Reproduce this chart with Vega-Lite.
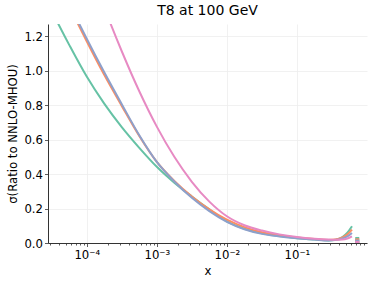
{
  "$schema": "https://vega.github.io/schema/vega-lite/v6.json",
  "autosize": "none",
  "width": 319,
  "height": 219,
  "padding": {"left": 48, "top": 24, "right": 7, "bottom": 43},
  "title": {"text": "T8 at 100 GeV", "fontSize": 14, "fontWeight": "normal", "font": "DejaVu Sans", "color": "#000", "offset": 6, "anchor": "middle"},
  "config": {"view": {"stroke": null}, "font": "DejaVu Sans"},
  "datasets": {
    "lines": [
      {"s": "A", "x": 2.818e-5, "v": 1.386}, {"s": "A", "x": 5.623e-5, "v": 1.149}, {"s": "A", "x": 1e-4, "v": 0.965}, {"s": "A", "x": 1.778e-4, "v": 0.808}, {"s": "A", "x": 3.162e-4, "v": 0.672}, {"s": "A", "x": 5.623e-4, "v": 0.552}, {"s": "A", "x": 1e-3, "v": 0.442}, {"s": "A", "x": 1.778e-3, "v": 0.35}, {"s": "A", "x": 3.162e-3, "v": 0.27}, {"s": "A", "x": 5.623e-3, "v": 0.195}, {"s": "A", "x": 0.01, "v": 0.125}, {"s": "A", "x": 0.01778, "v": 0.083}, {"s": "A", "x": 0.03162, "v": 0.056}, {"s": "A", "x": 0.05623, "v": 0.04}, {"s": "A", "x": 0.1, "v": 0.028}, {"s": "A", "x": 0.1778, "v": 0.02}, {"s": "A", "x": 0.2818, "v": 0.015}, {"s": "A", "x": 0.3548, "v": 0.019}, {"s": "A", "x": 0.4467, "v": 0.035}, {"s": "A", "x": 0.5248, "v": 0.06}, {"s": "A", "x": 0.6109, "v": 0.097},
      {"s": "B", "x": 2.818e-5, "v": 1.64}, {"s": "B", "x": 5.623e-5, "v": 1.375}, {"s": "B", "x": 1e-4, "v": 1.17}, {"s": "B", "x": 1.778e-4, "v": 0.975}, {"s": "B", "x": 3.162e-4, "v": 0.795}, {"s": "B", "x": 5.623e-4, "v": 0.62}, {"s": "B", "x": 1e-3, "v": 0.47}, {"s": "B", "x": 1.778e-3, "v": 0.36}, {"s": "B", "x": 3.162e-3, "v": 0.27}, {"s": "B", "x": 5.623e-3, "v": 0.195}, {"s": "B", "x": 0.01, "v": 0.135}, {"s": "B", "x": 0.01778, "v": 0.092}, {"s": "B", "x": 0.03162, "v": 0.062}, {"s": "B", "x": 0.05623, "v": 0.045}, {"s": "B", "x": 0.1, "v": 0.032}, {"s": "B", "x": 0.1778, "v": 0.023}, {"s": "B", "x": 0.2818, "v": 0.018}, {"s": "B", "x": 0.3548, "v": 0.02}, {"s": "B", "x": 0.4467, "v": 0.032}, {"s": "B", "x": 0.5248, "v": 0.05}, {"s": "B", "x": 0.6109, "v": 0.078},
      {"s": "C", "x": 2.818e-5, "v": 1.66}, {"s": "C", "x": 5.623e-5, "v": 1.39}, {"s": "C", "x": 1e-4, "v": 1.185}, {"s": "C", "x": 1.778e-4, "v": 0.99}, {"s": "C", "x": 3.162e-4, "v": 0.805}, {"s": "C", "x": 5.623e-4, "v": 0.625}, {"s": "C", "x": 1e-3, "v": 0.47}, {"s": "C", "x": 1.778e-3, "v": 0.357}, {"s": "C", "x": 3.162e-3, "v": 0.262}, {"s": "C", "x": 5.623e-3, "v": 0.185}, {"s": "C", "x": 0.01, "v": 0.123}, {"s": "C", "x": 0.01778, "v": 0.08}, {"s": "C", "x": 0.03162, "v": 0.053}, {"s": "C", "x": 0.05623, "v": 0.038}, {"s": "C", "x": 0.1, "v": 0.027}, {"s": "C", "x": 0.1778, "v": 0.02}, {"s": "C", "x": 0.2818, "v": 0.015}, {"s": "C", "x": 0.3548, "v": 0.017}, {"s": "C", "x": 0.4467, "v": 0.026}, {"s": "C", "x": 0.5248, "v": 0.038}, {"s": "C", "x": 0.6109, "v": 0.058},
      {"s": "D", "x": 2.818e-5, "v": 2.25}, {"s": "D", "x": 5.623e-5, "v": 1.91}, {"s": "D", "x": 1e-4, "v": 1.635}, {"s": "D", "x": 1.778e-4, "v": 1.365}, {"s": "D", "x": 3.162e-4, "v": 1.112}, {"s": "D", "x": 5.623e-4, "v": 0.88}, {"s": "D", "x": 1e-3, "v": 0.675}, {"s": "D", "x": 1.778e-3, "v": 0.50}, {"s": "D", "x": 3.162e-3, "v": 0.355}, {"s": "D", "x": 5.623e-3, "v": 0.24}, {"s": "D", "x": 0.01, "v": 0.155}, {"s": "D", "x": 0.01778, "v": 0.103}, {"s": "D", "x": 0.03162, "v": 0.072}, {"s": "D", "x": 0.05623, "v": 0.05}, {"s": "D", "x": 0.1, "v": 0.035}, {"s": "D", "x": 0.1778, "v": 0.025}, {"s": "D", "x": 0.2818, "v": 0.02}, {"s": "D", "x": 0.3548, "v": 0.019}, {"s": "D", "x": 0.4467, "v": 0.02}, {"s": "D", "x": 0.5248, "v": 0.026}, {"s": "D", "x": 0.6109, "v": 0.039}
    ],
    "bars": [
      {"s": "A", "x": 0.726, "v": 0.035, "v0": 0},
      {"s": "B", "x": 0.726, "v": 0.027, "v0": 0},
      {"s": "C", "x": 0.726, "v": 0.02, "v0": 0},
      {"s": "D", "x": 0.726, "v": 0.012, "v0": 0}
    ]
  },
  "encoding": {
    "x": {
      "field": "x", "type": "quantitative",
      "scale": {"type": "log", "domain": [2.8e-5, 1.0], "nice": false},
      "axis": {
        "title": "x", "titleFont": "DejaVu Sans", "titleFontSize": 11.7, "titleFontWeight": "normal", "titleColor": "#000", "titlePadding": 4,
        "values": [3e-5, 4e-5, 5e-5, 6e-5, 7e-5, 8e-5, 9e-5, 0.0001, 2e-4, 3e-4, 4e-4, 5e-4, 6e-4, 7e-4, 8e-4, 9e-4, 0.001, 0.002, 0.003, 0.004, 0.005, 0.006, 0.007, 0.008, 0.009, 0.01, 0.02, 0.03, 0.04, 0.05, 0.06, 0.07, 0.08, 0.09, 0.1, 0.2, 0.3, 0.4, 0.5, 0.6, 0.7, 0.8, 0.9],
        "labelExpr": "datum.value == 0.0001 ? '10⁻⁴' : datum.value == 0.001 ? '10⁻³' : datum.value == 0.01 ? '10⁻²' : datum.value == 0.1 ? '10⁻¹' : ''",
        "labelFont": "DejaVu Sans", "labelFontSize": 11.7, "labelColor": "#000", "labelPadding": 3, "labelOverlap": false, "labelFlush": false,
        "tickSize": {"condition": {"test": "indexof([0.0001, 0.001, 0.01, 0.1], datum.value) >= 0", "value": 3.5}, "value": 2},
        "tickColor": "#333", "tickWidth": 0.8,
        "domainColor": "#333", "domainWidth": 1,
        "grid": true, "gridColor": "#eeeeee", "gridWidth": 0.8,
        "gridOpacity": {"condition": {"test": "indexof([0.0001, 0.001, 0.01, 0.1], datum.value) >= 0", "value": 1}, "value": 0}
      }
    },
    "y": {
      "field": "v", "type": "quantitative",
      "scale": {"domain": [0, 1.27], "nice": false, "zero": true},
      "axis": {
        "title": "σ(Ratio to NNLO-MHOU)", "titleFont": "DejaVu Sans", "titleFontSize": 11.7, "titleFontWeight": "normal", "titleColor": "#000", "titlePadding": 5,
        "values": [0, 0.2, 0.4, 0.6, 0.8, 1.0, 1.2], "format": ".1f",
        "labelFont": "DejaVu Sans", "labelFontSize": 11.7, "labelColor": "#000", "labelPadding": 2,
        "tickSize": 3.5, "tickColor": "#333", "tickWidth": 0.8,
        "domainColor": "#333", "domainWidth": 1,
        "grid": true, "gridColor": "#eeeeee", "gridWidth": 0.8
      }
    },
    "color": {
      "field": "s", "type": "nominal",
      "scale": {"domain": ["A", "B", "C", "D"], "range": ["#66c2a5", "#fc8d62", "#8da0cb", "#e78ac3"]},
      "legend": null
    }
  },
  "layer": [
    {
      "data": {"name": "lines"},
      "mark": {"type": "line", "clip": true, "interpolate": "monotone", "strokeWidth": 2},
      "encoding": {"detail": {"field": "s"}}
    },
    {
      "data": {"name": "bars"},
      "mark": {"type": "rule", "strokeWidth": 4, "clip": true},
      "encoding": {"y2": {"field": "v0"}}
    }
  ]
}
